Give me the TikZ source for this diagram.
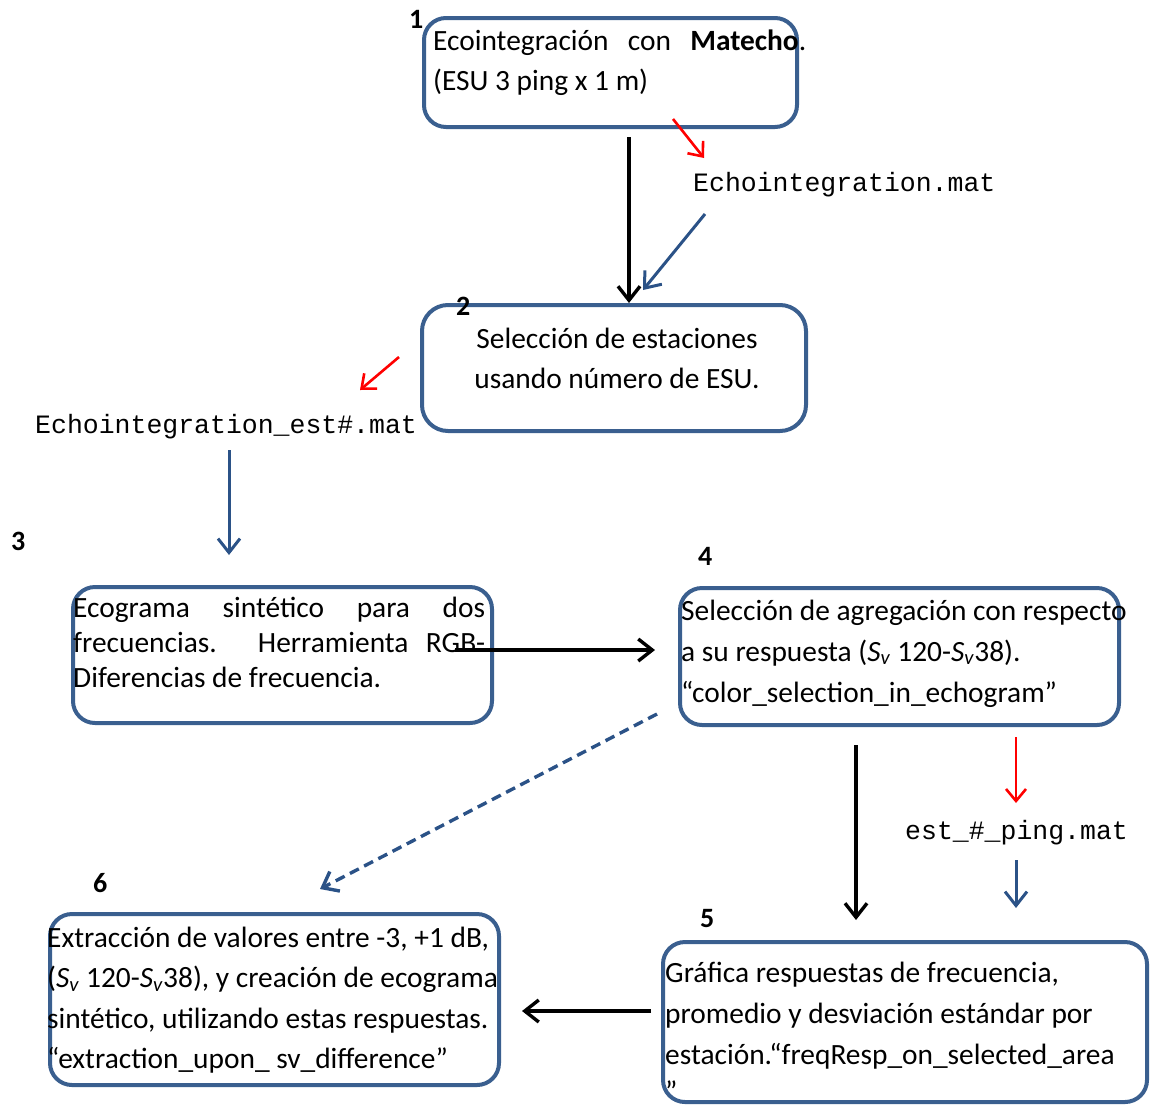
\documentclass[tikz,border=0pt]{standalone}
\usepackage{fontspec}
\setmainfont{Carlito}
\newfontfamily\monof{Liberation Mono}
\usetikzlibrary{arrows.meta}
\definecolor{boxblue}{HTML}{3A5F8F}
\definecolor{arrblue}{HTML}{2B5287}
\definecolor{arrred}{HTML}{FF0000}
\newcommand{\Sv}{\textit{S}\textsubscript{\textit{v}}}
\begin{document}
\begin{tikzpicture}[x=1pt,y=-1pt,
  box/.style={draw=boxblue, line width=4pt, rounded corners=22pt, inner sep=0pt},
  txt/.style={inner sep=0pt, anchor=base west, font=\fontsize{29.4}{40}\selectfont},
  num/.style={inner sep=0pt, anchor=base west, font=\fontsize{28}{30}\selectfont\bfseries},
  file/.style={inner sep=0pt, anchor=base west, font=\monof\fontsize{26.5}{30}\selectfont},
  blk/.style={-{Straight Barb[length=14pt,width=22pt]}, line width=3.4pt, black},
  blu/.style={-{Straight Barb[length=14pt,width=22pt]}, line width=3pt, arrblue},
  rd/.style={-{Straight Barb[length=12pt,width=20pt]}, line width=2.6pt, arrred},
  dsh/.style={-{Straight Barb[length=14pt,width=22pt]}, line width=3.4pt, arrblue, dash pattern=on 10pt off 6pt},
]
\useasboundingbox (0,0) rectangle (1150,1106);

% boxes
\node[box, minimum width=373pt, minimum height=109pt] (b1) at (610.5,72.5) {};
\node[box, minimum width=384pt, minimum height=126pt, rounded corners=26pt] (b2) at (614,368) {};
\node[box, minimum width=419pt, minimum height=136pt] (b3) at (282.5,655) {};
\node[box, minimum width=439pt, minimum height=137pt] (b4) at (899.5,656.5) {};
\node[box, minimum width=484pt, minimum height=160pt] (b5) at (905,1022) {};
\node[box, minimum width=449pt, minimum height=171pt] (b6) at (274.5,999.5) {};

% step numbers
\node[num] (n1) at (409,28) {1};
\node[num] (n2) at (456,315) {2};
\node[num] (n3) at (11,550) {3};
\node[num] (n4) at (698,565) {4};
\node[num] (n5) at (700,927) {5};
\node[num] (n6) at (93,892) {6};

% box texts
\node[txt] (t1) at (433,50) {\parbox[t]{600pt}{\makebox[373pt][s]{Ecointegración con \textbf{Matecho}.}\\(ESU 3 ping x 1 m)}};
\node[txt, anchor=base] (t2) at (617,348) {\parbox[t]{500pt}{\centering Selección de estaciones\\usando número de ESU.}};
\node[txt, font=\fontsize{29.4}{35}\selectfont] (t3) at (73,617) {\parbox[t]{600pt}{\makebox[412pt][s]{Ecograma sintético para dos}\\\makebox[412pt][s]{frecuencias. Herramienta RGB-}\\Diferencias de frecuencia.}};
\node[txt, font=\fontsize{29.4}{41}\selectfont] (t4) at (681,620) {\parbox[t]{600pt}{Selección de agregación con respecto\\a su respuesta (\Sv{} 120-\Sv38).\\“color\_selection\_in\_echogram”}};
\node[txt, font=\fontsize{29.4}{41}\selectfont] (t5) at (665,982) {\parbox[t]{600pt}{Gráfica respuestas de frecuencia,\\promedio y desviación estándar por\\estación.“freqResp\_on\_selected\_area\\[-4pt]”}};
\node[txt, font=\fontsize{29.4}{40.5}\selectfont] (t6) at (47,947) {\parbox[t]{600pt}{Extracción de valores entre -3, +1 dB,\\(\Sv{} 120-\Sv38), y creación de ecograma\\sintético, utilizando estas respuestas.\\“extraction\_upon\_ sv\_difference”}};

% file labels
\node[file] (f1) at (693,191) {Echointegration.mat};
\node[file] (f2) at (35,433) {Echointegration\_est\#.mat};
\node[file] (f3) at (905,839) {est\_\#\_ping.mat};

% connector end points
\coordinate (a1s) at (629,137);  \coordinate (a1e) at (629,303);
\coordinate (r1s) at (673,119);  \coordinate (r1e) at (704,158);
\coordinate (u1s) at (705,214);  \coordinate (u1e) at (643,290);
\coordinate (r2s) at (399,357);  \coordinate (r2e) at (360,390);
\coordinate (u2s) at (229,450);  \coordinate (u2e) at (229,555);
\coordinate (a2s) at (455,650);  \coordinate (a2e) at (655,650);
\coordinate (d1s) at (657,714);  \coordinate (d1e) at (320,889);
\coordinate (a3s) at (856,745);  \coordinate (a3e) at (856,920);
\coordinate (r3s) at (1016,737); \coordinate (r3e) at (1016,803);
\coordinate (u3s) at (1016,860); \coordinate (u3e) at (1016,908);
\coordinate (a4s) at (651,1011); \coordinate (a4e) at (522,1011);

\draw[blk] (a1s) -- (a1e);
\draw[rd]  (r1s) -- (r1e);
\draw[blu] (u1s) -- (u1e);
\draw[rd]  (r2s) -- (r2e);
\draw[blu] (u2s) -- (u2e);
\draw[blk] (a2s) -- (a2e);
\draw[dsh] (d1s) -- (d1e);
\draw[blk] (a3s) -- (a3e);
\draw[rd]  (r3s) -- (r3e);
\draw[blu] (u3s) -- (u3e);
\draw[blk] (a4s) -- (a4e);
\end{tikzpicture}
\end{document}
